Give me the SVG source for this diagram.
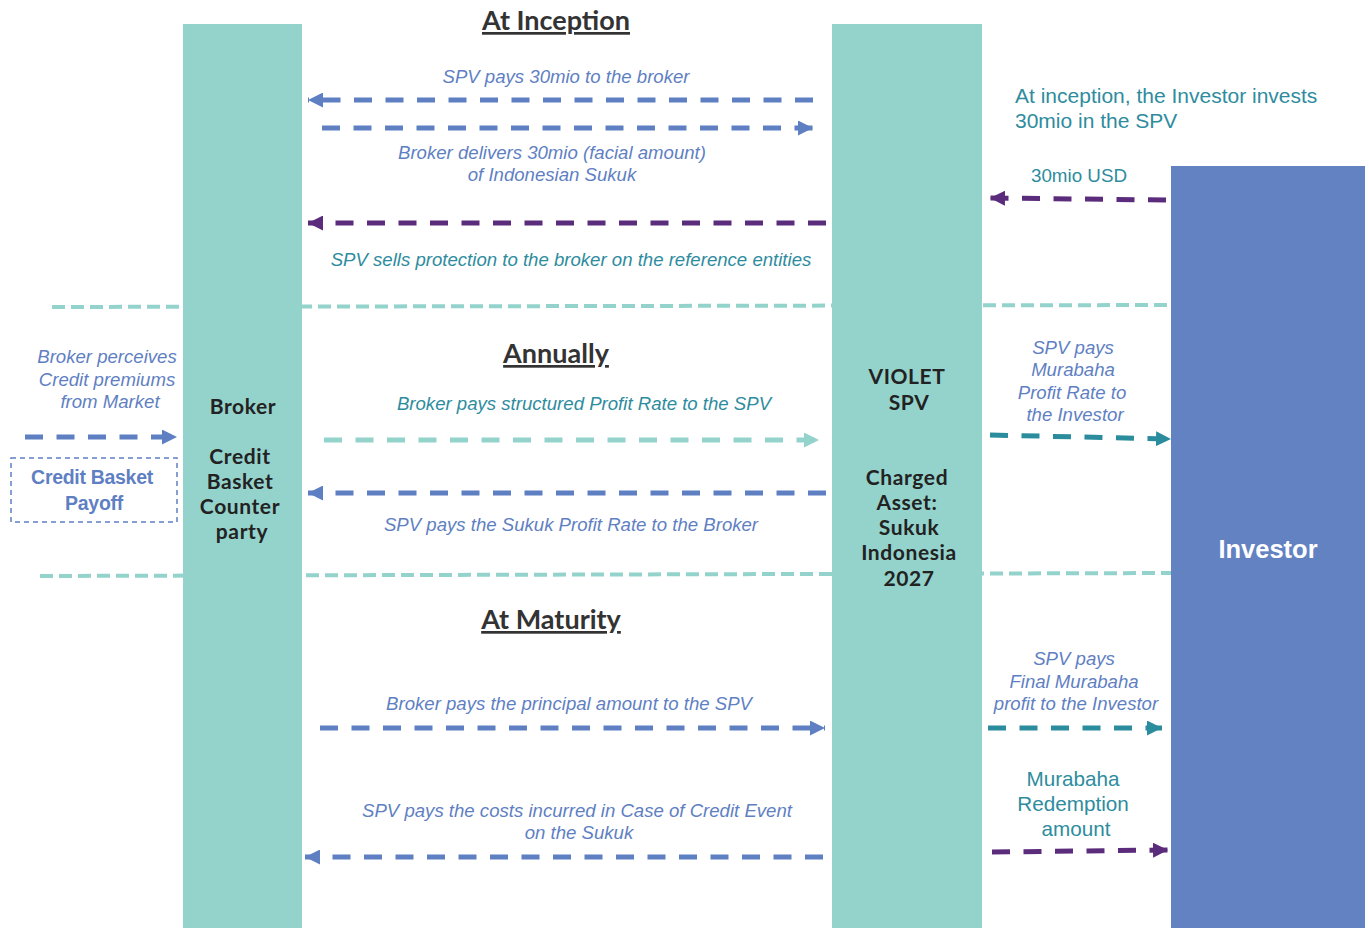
<svg xmlns="http://www.w3.org/2000/svg" width="1369" height="928" viewBox="0 0 1369 928">
<defs>
<style>
.col{fill:#94D3CC}
.inv{fill:#6282C2}
.hd{font-family:Lato,"Open Sans",sans-serif;font-weight:bold;font-size:27px;fill:#333;text-anchor:middle;text-decoration:underline}
.nt{font-family:Lato,"Open Sans",sans-serif;font-weight:bold;font-size:21px;letter-spacing:0.6px;fill:#222;text-anchor:middle}
.lb{font-family:"Liberation Sans",Arial,sans-serif;font-style:italic;font-size:18.6px;fill:#5F7FC3;text-anchor:middle}
.lt{font-family:"Liberation Sans",Arial,sans-serif;font-style:italic;font-size:18.6px;fill:#2E8C9E;text-anchor:middle}
.tn{font-family:"Liberation Sans",Arial,sans-serif;font-size:21px;fill:#2E8C9E}
.sep{stroke:#94D3CC;stroke-width:4;stroke-dasharray:13 6;fill:none}
.ab{stroke:#5F7FC3;stroke-width:5;stroke-dasharray:18 13.5;fill:none;marker-end:url(#mb)}
.ap{stroke:#5B2C7C;stroke-width:5;stroke-dasharray:18 13.5;fill:none;marker-end:url(#mp)}
.at{stroke:#2A8C9C;stroke-width:5;stroke-dasharray:18 13.5;fill:none;marker-end:url(#mt)}
.al{stroke:#94D3CC;stroke-width:5;stroke-dasharray:18 13.5;fill:none;marker-end:url(#ml)}
</style>
<marker id="mb" viewBox="0 0 14 14" refX="14" refY="7" markerWidth="15" markerHeight="15" markerUnits="userSpaceOnUse" orient="auto"><path d="M0,0 L14,7 L0,14 z" fill="#5F7FC3"/></marker>
<marker id="mp" viewBox="0 0 14 14" refX="14" refY="7" markerWidth="15" markerHeight="15" markerUnits="userSpaceOnUse" orient="auto"><path d="M0,0 L14,7 L0,14 z" fill="#5B2C7C"/></marker>
<marker id="mt" viewBox="0 0 14 14" refX="14" refY="7" markerWidth="15" markerHeight="15" markerUnits="userSpaceOnUse" orient="auto"><path d="M0,0 L14,7 L0,14 z" fill="#2A8C9C"/></marker>
<marker id="ml" viewBox="0 0 14 14" refX="14" refY="7" markerWidth="15" markerHeight="15" markerUnits="userSpaceOnUse" orient="auto"><path d="M0,0 L14,7 L0,14 z" fill="#94D3CC"/></marker>
</defs>
<rect width="1369" height="928" fill="#fff"/>

<g id="separators">
<path class="sep" d="M52,307 L1171,305"/>
<path class="sep" d="M40,576 L1171,573"/>
</g>

<g id="broker">
<rect class="col" x="183" y="24" width="119" height="904"/>
<text class="nt" x="243" y="414">Broker</text>
<text class="nt" x="240" y="464">Credit</text>
<text class="nt" x="240" y="489">Basket</text>
<text class="nt" x="240" y="514">Counter</text>
<text class="nt" x="242" y="539">party</text>
</g>

<g id="spv">
<rect class="col" x="832" y="24" width="150" height="904"/>
<text class="nt" x="907" y="384">VIOLET</text>
<text class="nt" x="909" y="410">SPV</text>
<text class="nt" x="907" y="485">Charged</text>
<text class="nt" x="907" y="510">Asset:</text>
<text class="nt" x="909" y="535">Sukuk</text>
<text class="nt" x="909" y="560">Indonesia</text>
<text class="nt" x="909" y="586">2027</text>
</g>

<g id="investor">
<rect class="inv" x="1171" y="166" width="194" height="762"/>
<text x="1268" y="558" style="font-family:'Liberation Sans',Arial,sans-serif;font-weight:bold;font-size:25.5px;fill:#fff;text-anchor:middle">Investor</text>
</g>

<g id="credit-basket">
<rect x="11" y="458" width="166" height="64" fill="none" stroke="#5F7FC3" stroke-width="1.5" stroke-dasharray="5 4"/>
<text x="92" y="484" style="font-family:'Liberation Sans',Arial,sans-serif;font-weight:bold;font-size:19.5px;fill:#5F7FC3;text-anchor:middle;letter-spacing:-0.3px">Credit Basket</text>
<text x="94" y="510" style="font-family:'Liberation Sans',Arial,sans-serif;font-weight:bold;font-size:19.5px;fill:#5F7FC3;text-anchor:middle;letter-spacing:-0.3px">Payoff</text>
</g>

<g id="headings">
<text class="hd" x="556" y="30">At Inception</text>
<text class="hd" x="556" y="363">Annually</text>
<text class="hd" x="551" y="629">At Maturity</text>
</g>

<g id="connectors">
<path class="ab" d="M813,100 L308,100"/>
<path class="ab" d="M322,128 L813,128"/>
<path class="ap" d="M826,223 L308,223"/>
<path class="ap" d="M1166,200 L990,198"/>
<path class="ab" d="M25,437 L177,437"/>
<path class="al" d="M324,440 L819,440"/>
<path class="ab" d="M826,493 L308,493"/>
<path class="at" d="M990,435 L1171,439"/>
<path class="ab" d="M320,728 L825,728"/>
<path class="ab" d="M823,857 L305,857"/>
<path class="at" d="M988,728 L1162,728"/>
<path class="ap" d="M992,852 L1168,850"/>
</g>

<g id="labels">
<text class="lb" x="566" y="83">SPV pays 30mio to the broker</text>
<text class="lb" x="552" y="159">Broker delivers 30mio (facial amount)</text>
<text class="lb" x="552" y="181">of Indonesian Sukuk</text>
<text class="lt" x="571" y="266">SPV sells protection to the broker on the reference entities</text>
<text class="tn" x="1015" y="103">At inception, the Investor invests</text>
<text class="tn" x="1015" y="128">30mio in the SPV</text>
<text class="tn" x="1079" y="182" style="font-size:18.8px;text-anchor:middle">30mio USD</text>
<text class="lb" x="107" y="363">Broker perceives</text>
<text class="lb" x="107" y="386">Credit premiums</text>
<text class="lb" x="110" y="408">from Market</text>
<text class="lt" x="584" y="410">Broker pays structured Profit Rate to the SPV</text>
<text class="lb" x="571" y="531">SPV pays the Sukuk Profit Rate to the Broker</text>
<text class="lb" x="1073" y="354">SPV pays</text>
<text class="lb" x="1073" y="376">Murabaha</text>
<text class="lb" x="1072" y="399">Profit Rate to</text>
<text class="lb" x="1075" y="421">the Investor</text>
<text class="lb" x="569" y="710">Broker pays the principal amount to the SPV</text>
<text class="lb" x="577" y="817">SPV pays the costs incurred in Case of Credit Event</text>
<text class="lb" x="579" y="839">on the Sukuk</text>
<text class="lb" x="1074" y="665">SPV pays</text>
<text class="lb" x="1074" y="688">Final Murabaha</text>
<text class="lb" x="1076" y="710">profit to the Investor</text>
<text class="tn" x="1073" y="786" style="text-anchor:middle;font-size:20.7px">Murabaha</text>
<text class="tn" x="1073" y="811" style="text-anchor:middle;font-size:20.7px">Redemption</text>
<text class="tn" x="1076" y="836" style="text-anchor:middle;font-size:20.7px">amount</text>
</g>
</svg>
